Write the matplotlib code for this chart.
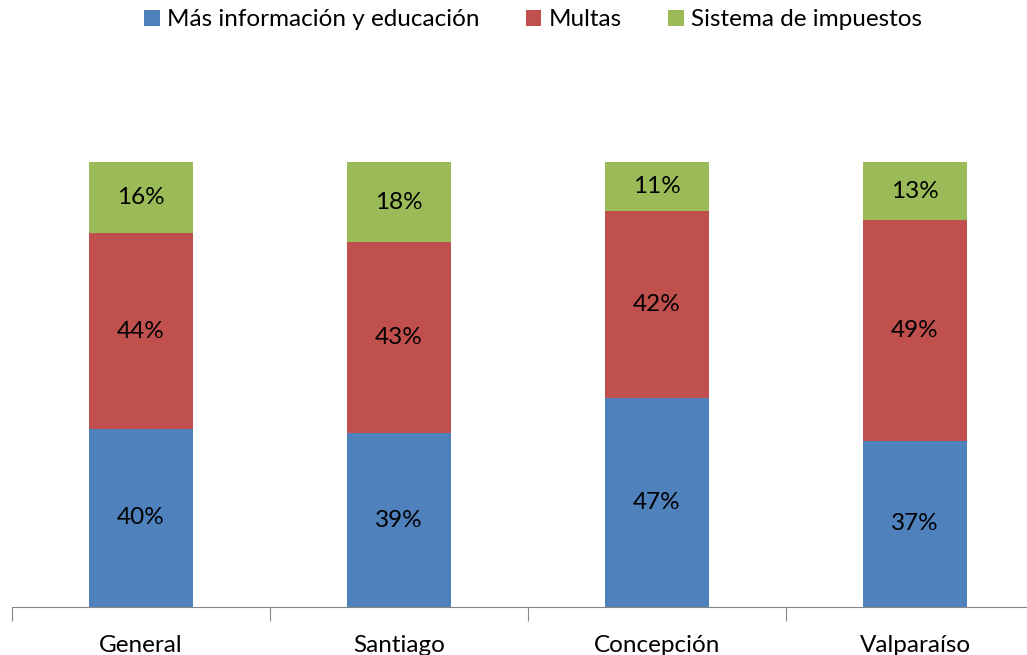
import numpy as np
import matplotlib.pyplot as plt

plt.rcParams['font.family'] = ['Lato', 'DejaVu Sans']

ciudades = ['General', 'Santiago', 'Concepción', 'Valparaíso']
series = ['Más información y educación', 'Multas', 'Sistema de impuestos']
info = [40, 39, 47, 37]
multas = [44, 43, 42, 49]
impuestos = [16, 18, 11, 13]
colores = ['#4F81BD', '#C0504D', '#9BBB59']

datos = np.array([info, multas, impuestos], dtype=float)
# grafico 100% apilado
frac = datos / datos.sum(axis=0)

fs = 17.5
fig = plt.figure(figsize=(10.27, 6.55), dpi=100)
ax = fig.add_axes([12 / 1027, 48 / 655, 1032 / 1027, 445 / 655])

x = np.arange(len(ciudades))
base = np.zeros(len(ciudades))
for i, nombre in enumerate(series):
    ax.bar(x, frac[i], 0.4, bottom=base, color=colores[i], label=nombre)
    for j in range(len(ciudades)):
        ax.text(x[j], base[j] + frac[i][j] / 2, '%d%%' % datos[i][j],
                ha='center', va='center', fontsize=fs, color='black')
    base += frac[i]

ax.set_xlim(-0.5, len(ciudades) - 0.5)
ax.set_ylim(0, 1)
ax.set_xticks(np.arange(len(ciudades) + 1) - 0.5)
ax.set_xticklabels([])
ax.set_xticks(x, minor=True)
ax.set_xticklabels(ciudades, minor=True, fontsize=fs)
ax.tick_params(axis='x', which='major', length=10, color='#868686')
ax.tick_params(axis='x', which='minor', length=0, pad=20)
ax.set_yticks([])
for s in ['top', 'right', 'left']:
    ax.spines[s].set_visible(False)
ax.spines['bottom'].set_color('#868686')

fig.legend(loc='upper center', bbox_to_anchor=(0.519, 1.019), ncol=3, frameon=False,
           fontsize=fs, handlelength=0.65, handleheight=0.65, handletextpad=0.3,
           columnspacing=1.9)

plt.savefig('out.png', dpi=100)
